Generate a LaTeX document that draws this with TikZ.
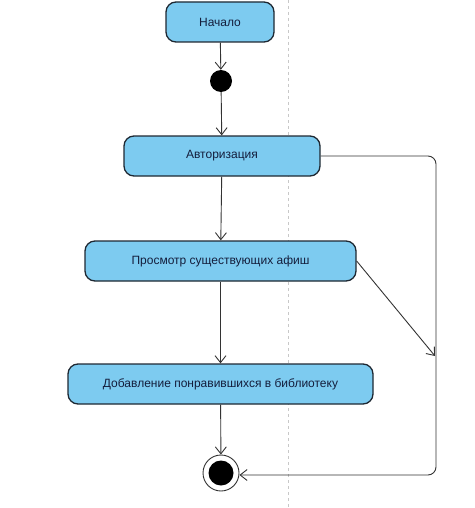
\documentclass[tikz,border=0pt]{standalone}
\usepackage{fontspec}
\setmainfont{Liberation Sans}
\usetikzlibrary{arrows.meta}
\definecolor{actfill}{RGB}{125,203,240}
\definecolor{actline}{RGB}{30,40,50}
\definecolor{acttext}{RGB}{20,30,60}
\definecolor{laneline}{RGB}{200,200,200}
\begin{document}
\begin{tikzpicture}[x=1pt,y=-1pt,
  activity/.style={draw=actline, line width=1.3pt, fill=actfill, rounded corners=10pt,
    minimum height=40pt, inner sep=0pt, font=\fontsize{12}{14}\selectfont, text=acttext},
  flow/.style={draw=black!80, line width=0.9pt, -{Straight Barb[length=7pt,width=11pt]}}]
  \useasboundingbox (0,0) rectangle (474,508);
  % swimlane separator
  \draw[laneline, dashed, line width=0.8pt] (288,0) -- (288,508);

  \node[activity, minimum width=108pt] (start) at (220,22) {Начало};
  \node[circle, fill=black, minimum size=22pt, inner sep=0pt] (init) at (221,81) {};
  \node[activity, minimum width=196pt] (auth) at (222,156) {Авторизация};
  \node[activity, minimum width=271pt] (view) at (220.5,261) {Просмотр существующих афиш};
  \node[activity, minimum width=305pt] (add) at (220.5,384) {Добавление понравившихся в библиотеку};
  \node[circle, draw=black!80, line width=0.9pt, fill=white, minimum size=36pt, inner sep=0pt] (final) at (221,473) {};
  \node[circle, fill=black, minimum size=25pt, inner sep=0pt] at (final) {};

  \coordinate (turn) at (435,356);

  \draw[flow] (start) -- (init);
  \draw[flow] (init) -- (auth);
  \draw[flow] (auth) -- (view);
  \draw[flow] (view) -- (add);
  \draw[flow] (add) -- (final);
  \draw[flow] (view.east) -- (turn);
  \draw[flow, rounded corners=8pt] (auth.east) -- (436,156) -- (436,475) -- (final.east |- 0,475);
\end{tikzpicture}
\end{document}
